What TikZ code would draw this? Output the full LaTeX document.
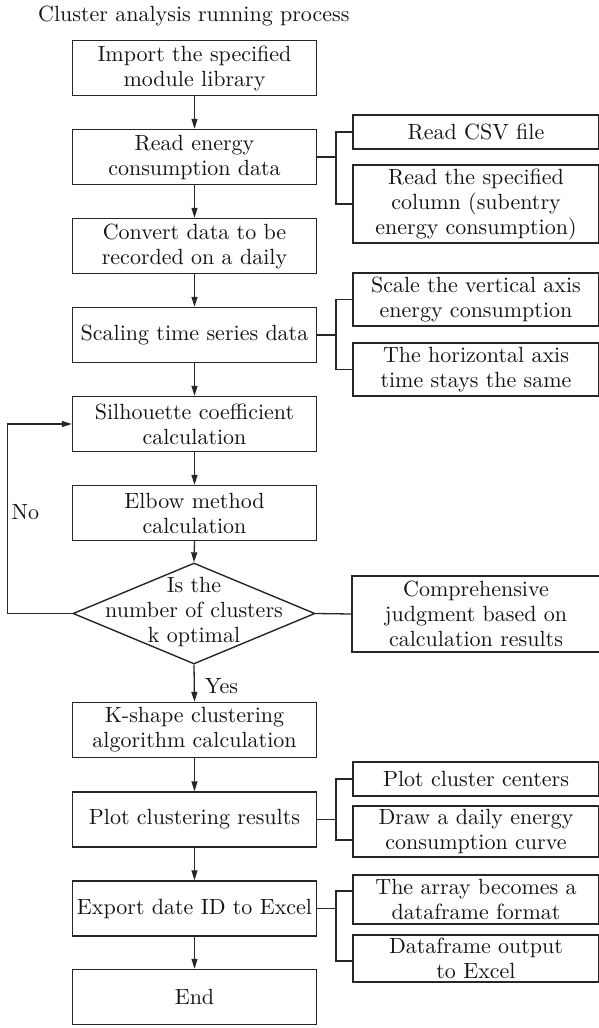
\documentclass[tikz,border=0pt]{standalone}
\usepackage{fontspec}
\setmainfont{lmroman10-regular}[Extension=.otf]
\usetikzlibrary{shapes.geometric,arrows.meta}
\definecolor{linec}{HTML}{262626}
\definecolor{textc}{HTML}{141414}
\begin{document}
\begin{tikzpicture}[x=1pt,y=-1pt,
  font=\fontsize{22}{25}\selectfont,
  mainbox/.style={draw=linec, line width=1.4pt, minimum width=244pt, minimum height=55pt, align=center, inner sep=0pt, text=textc},
  sidebox/.style={draw=linec, line width=1.4pt, minimum width=246pt, align=center, inner sep=0pt, text=textc},
  conn/.style={draw=linec, line width=1.3pt},
  arr/.style={conn, -{Triangle[length=10pt,width=6pt]}},
  lbl/.style={text=textc, inner sep=0pt}]
\useasboundingbox (0,0) rectangle (598,1028);

\node[lbl, anchor=west] (title) at (38,16) {Cluster analysis running process};

% main column
\node[mainbox] (b1) at (194.5,68) {Import the specified\\module library};
\node[mainbox] (b2) at (194.5,157) {Read energy\\consumption data};
\node[mainbox] (b3) at (194.5,246) {Convert data to be\\recorded on a daily};
\node[mainbox] (b4) at (194.5,335) {Scaling time series data};
\node[mainbox] (b5) at (194.5,424) {Silhouette coefficient\\calculation};
\node[mainbox] (b6) at (194.5,513) {Elbow method\\calculation};
\node[draw=linec, line width=1.4pt, diamond, minimum width=242pt, minimum height=101pt, inner sep=0pt] (dia) at (194,613.5) {};
\node[lbl, align=center] (diat) at (194,612) {Is the\\number of clusters\\k optimal};
\node[mainbox] (b7) at (194.5,730) {K-shape clustering\\algorithm calculation};
\node[mainbox] (b8) at (194.5,819.5) {Plot clustering results};
\node[mainbox] (b9) at (194.5,908.5) {Export date ID to Excel};
\node[mainbox] (b10) at (194.5,997) {End};

% side boxes
\node[sidebox, minimum height=34pt] (s1) at (476,132) {Read CSV file};
\node[sidebox, minimum height=78pt] (s2) at (476,204) {Read the specified\\column (subentry\\energy consumption)};
\node[sidebox, minimum height=53pt] (s3) at (476,299.5) {Scale the vertical axis\\energy consumption};
\node[sidebox, minimum height=53pt] (s4) at (476,369.5) {The horizontal axis\\time stays the same};
\node[sidebox, minimum height=76pt, minimum width=248pt] (s5) at (476,614) {Comprehensive\\judgment based on\\calculation results};
\node[sidebox, minimum height=34pt] (s6) at (476,779) {Plot cluster centers};
\node[sidebox, minimum height=51pt] (s7) at (476,831.5) {Draw a daily energy\\consumption curve};
\node[sidebox, minimum height=49pt] (s8) at (476,899.5) {The array becomes a\\dataframe format};
\node[sidebox, minimum height=47pt] (s9) at (476,958.5) {Dataframe output\\to Excel};

% main arrows
\draw[arr] (b1) -- (b2);
\draw[arr] (b2) -- (b3);
\draw[arr] (b3) -- (b4);
\draw[arr] (b4) -- (b5);
\draw[arr] (b5) -- (b6);
\draw[arr] (b6.south) -- (dia.north);
\draw[arr] (dia.south) -- (b7.north);
\draw[arr] (b7) -- (b8);
\draw[arr] (b8) -- (b9);
\draw[arr] (b9) -- (b10);
\node[lbl] (yes) at (221.5,686) {Yes};

% loop back
\coordinate (loopc) at (7.5,613.5);
\draw[arr] (dia.west) -- (loopc) |- (b5.west);
\node[lbl] (no) at (25.5,512) {No};

% brackets
\coordinate (k2) at (336,157);
\draw[conn] (b2.east) -- (k2);
\draw[conn] (s1.west) -| (k2) |- (s2.west);

\coordinate (k4) at (336,335);
\draw[conn] (b4.east) -- (k4);
\draw[conn] (s3.west) -| (k4) |- (s4.west);

\draw[conn] (dia.east) -- (s5.west);

\coordinate (k8) at (336,819.5);
\draw[conn] (b8.east) -- (k8);
\draw[conn] (s6.west) -| (k8) |- (s7.west |- 0,840);

\coordinate (k9) at (336,908.5);
\draw[conn] (b9.east) -- (k9);
\draw[conn] (s8.west |- 0,891) -| (k9) |- (s9.west |- 0,961);
\end{tikzpicture}
\end{document}
